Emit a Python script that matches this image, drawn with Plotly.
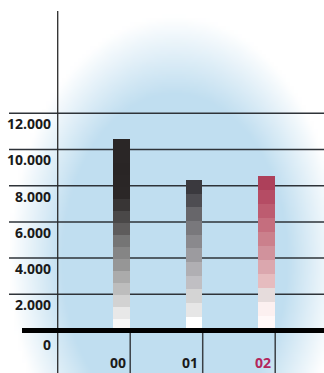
import plotly.graph_objects as go
import zlib, struct, base64

# ---- data ----
categories = ["00", "01", "02"]
totals = [10580, 8320, 8540]
segments = [16, 11, 11]
seg_colors = [
    ["#f7f7f7", "#e8e8e8", "#d2d2d2", "#bdbdbd", "#ababab", "#969696", "#858585", "#757575",
     "#5e5c5c", "#4a4848", "#383535", "#2b2727", "#2a2626", "#292525", "#2a2626", "#2a2626"],
    ["#ffffff", "#e6e6e6", "#d4d4d4", "#c0bfc3", "#b0afb3", "#9c9b9f", "#8a898d", "#79787c",
     "#67666a", "#4e4d52", "#3a393e"],
    ["#fff8f8", "#fcf0f0", "#e6dcdc", "#e6bcbf", "#dba7ae", "#d1929c", "#cb808c", "#c56e7e",
     "#bd5c70", "#b54c64", "#ad405a"],
]
label_colors = ["#1a1a1a", "#1a1a1a", "#b3265c"]
yticks = [0, 2000, 4000, 6000, 8000, 10000, 12000]
ytick_labels = ["0", "2.000", "4.000", "6.000", "8.000", "10.000", "12.000"]

W, H = 324, 373


# ---- background radial gradient as PNG ----
def gradient_png(w, h, scale):
    blue = (192, 222, 240)
    cx, cy, rx, ry = 175, 262, 165, 245
    rows = []
    for j in range(h):
        row = bytearray([0])
        py = (j + 0.5) * scale
        for i in range(w):
            px = (i + 0.5) * scale
            d = (((px - cx) / rx) ** 2 + ((py - cy) / ry) ** 2) ** 0.5
            f = max(0.0, min(1.0, (1.0 - d) / 0.32))
            for c in blue:
                row.append(int(round(255 + (c - 255) * f)))
        rows.append(bytes(row))
    raw = b"".join(rows)

    def chunk(t, d):
        return struct.pack(">I", len(d)) + t + d + struct.pack(">I", zlib.crc32(t + d) & 0xffffffff)

    png = (b"\x89PNG\r\n\x1a\n"
           + chunk(b"IHDR", struct.pack(">IIBBBBB", w, h, 8, 2, 0, 0, 0))
           + chunk(b"IDAT", zlib.compress(raw, 9))
           + chunk(b"IEND", b""))
    return "data:image/png;base64," + base64.b64encode(png).decode()


fig = go.Figure()

xs = list(range(len(categories)))
for k in range(max(segments)):
    yv = [totals[i] / segments[i] if k < segments[i] else 0 for i in xs]
    cv = [seg_colors[i][k] if k < segments[i] else "rgba(0,0,0,0)" for i in xs]
    fig.add_trace(go.Bar(x=xs, y=yv, width=0.234, marker=dict(color=cv, line=dict(width=0)),
                         showlegend=False, hoverinfo="skip"))

shapes = []
# gridlines
for v in yticks[1:]:
    shapes.append(dict(type="line", xref="paper", yref="y", x0=9 / W, x1=1, y0=v, y1=v,
                       line=dict(color="#2e3338", width=1.5), layer="below"))
# main vertical axis line
shapes.append(dict(type="line", xref="x", yref="paper", x0=-0.88, x1=-0.88, y0=0, y1=1 - 11 / H,
                   line=dict(color="#2a2a2a", width=1.3), layer="below"))
# category dividers below zero
for i in xs:
    shapes.append(dict(type="line", xref="x", yref="paper", x0=i + 0.12, x1=i + 0.12,
                       y0=0, y1=1 - 333 / H, line=dict(color="#3a3f44", width=1.5), layer="below"))
# thick zero line
shapes.append(dict(type="line", xref="paper", yref="y", x0=22 / W, x1=1, y0=0, y1=0,
                   line=dict(color="#000000", width=5), layer="above"))

annotations = []
for v, t in zip(yticks, ytick_labels):
    annotations.append(dict(xref="paper", yref="y", x=53 / W, y=v, text=t, showarrow=False,
                            xanchor="right", yanchor="middle", yshift=-13.5 if v == 0 else -10.3,
                            font=dict(family="Open Sans", size=14, color="#1a1a1a", weight="bold")))
for i, c in enumerate(categories):
    annotations.append(dict(xref="x", yref="paper", x=i - 0.05, y=0, text=c, showarrow=False,
                            xanchor="center", yanchor="bottom", yshift=-1,
                            font=dict(family="Open Sans", size=14, color=label_colors[i], weight="bold")))

fig.update_layout(
    width=W, height=H, margin=dict(l=0, r=0, t=0, b=0),
    paper_bgcolor="white", plot_bgcolor="rgba(0,0,0,0)",
    barmode="stack", bargap=0,
    xaxis=dict(range=[-1.676, 2.793], visible=False, fixedrange=True),
    yaxis=dict(range=[-2348, 18260], visible=False, fixedrange=True),
    shapes=shapes, annotations=annotations,
    images=[dict(source=gradient_png(81, 94, 4), xref="paper", yref="paper", x=0, y=1,
                 sizex=1, sizey=1, sizing="stretch", layer="below", xanchor="left", yanchor="top")],
)

fig.write_html("out.html", config={"displayModeBar": False})
